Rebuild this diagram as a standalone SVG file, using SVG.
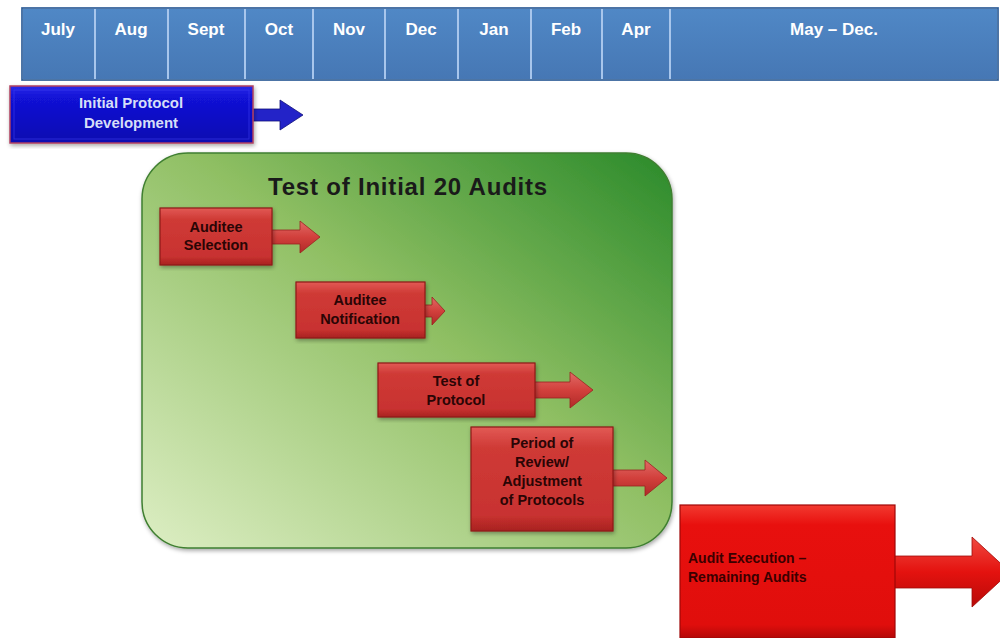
<svg xmlns="http://www.w3.org/2000/svg" width="1000" height="638" viewBox="0 0 1000 638">
<defs>
<linearGradient id="hdr" x1="0" y1="0" x2="0" y2="1">
<stop offset="0" stop-color="#5088c6"/><stop offset="1" stop-color="#4677b4"/>
</linearGradient>
<linearGradient id="grn" x1="1" y1="0" x2="0" y2="1">
<stop offset="0" stop-color="#2a8a2a"/><stop offset="0.45" stop-color="#8fbf63"/><stop offset="1" stop-color="#ddeec4"/>
</linearGradient>
<linearGradient id="red" x1="0" y1="0" x2="0" y2="1">
<stop offset="0" stop-color="#e25a55"/><stop offset="0.2" stop-color="#cf3a36"/><stop offset="0.85" stop-color="#c83230"/><stop offset="1" stop-color="#a82220"/>
</linearGradient>
<linearGradient id="red2" x1="0" y1="0" x2="0" y2="1">
<stop offset="0" stop-color="#f23a30"/><stop offset="0.15" stop-color="#e8100e"/><stop offset="0.9" stop-color="#e00e0c"/><stop offset="1" stop-color="#b40808"/>
</linearGradient>
<linearGradient id="arr" x1="0" y1="0" x2="0" y2="1">
<stop offset="0" stop-color="#e06a66"/><stop offset="0.5" stop-color="#d2403c"/><stop offset="1" stop-color="#b02a28"/>
</linearGradient>
<linearGradient id="arr2" x1="0" y1="0" x2="0" y2="1">
<stop offset="0" stop-color="#f04a40"/><stop offset="0.5" stop-color="#e4120f"/><stop offset="1" stop-color="#b80a08"/>
</linearGradient>
<linearGradient id="blu" x1="0" y1="0" x2="0" y2="1">
<stop offset="0" stop-color="#2a2ae8"/><stop offset="0.2" stop-color="#1212d6"/><stop offset="1" stop-color="#0a0ab0"/>
</linearGradient>
<filter id="sh" x="-10%" y="-10%" width="120%" height="120%">
<feDropShadow dx="1" dy="2" stdDeviation="2" flood-color="#000" flood-opacity="0.35"/>
</filter>
</defs>
<style>
.m{font-family:"Liberation Sans",Arial,sans-serif;font-weight:bold;font-size:17px;fill:#ffffff;text-anchor:middle}
.r{font-family:"Liberation Sans",Arial,sans-serif;font-weight:bold;font-size:14.5px;fill:#2a0505;text-anchor:middle}
.rb{fill:url(#red);stroke:#8e1a18;stroke-width:1.2}
.ar{fill:url(#arr);stroke:#9a2220;stroke-width:0.8}
.cell{fill:url(#hdr);stroke:#a8c6ec;stroke-width:2}
</style>

<g id="timeline">
<rect x="22" y="8" width="976" height="72" fill="#3a6aa5"/>
<rect class="cell" x="22" y="8" width="73" height="72"/>
<rect class="cell" x="95" y="8" width="73" height="72"/>
<rect class="cell" x="168" y="8" width="77" height="72"/>
<rect class="cell" x="245" y="8" width="68" height="72"/>
<rect class="cell" x="313" y="8" width="72" height="72"/>
<rect class="cell" x="385" y="8" width="73" height="72"/>
<rect class="cell" x="458" y="8" width="73" height="72"/>
<rect class="cell" x="531" y="8" width="71" height="72"/>
<rect class="cell" x="602" y="8" width="68" height="72"/>
<rect class="cell" x="670" y="8" width="328" height="72"/>
<rect x="22" y="8" width="976" height="72" fill="none" stroke="#2e5a8e" stroke-width="1.5"/>
<text class="m" x="58" y="35">July</text>
<text class="m" x="131" y="35">Aug</text>
<text class="m" x="206" y="35">Sept</text>
<text class="m" x="279" y="35">Oct</text>
<text class="m" x="349" y="35">Nov</text>
<text class="m" x="421" y="35">Dec</text>
<text class="m" x="494" y="35">Jan</text>
<text class="m" x="566" y="35">Feb</text>
<text class="m" x="636" y="35">Apr</text>
<text class="m" x="834" y="35">May – Dec.</text>
</g>

<g id="test-initial-20-audits">
<rect x="142" y="153" width="530" height="395" rx="46" ry="46" fill="url(#grn)" stroke="#3f7f30" stroke-width="1.5" filter="url(#sh)"/>
<text x="408" y="195" font-family="'Liberation Sans',Arial,sans-serif" font-weight="bold" font-size="24" letter-spacing="0.8" fill="#1a1a1a" text-anchor="middle">Test of Initial 20 Audits</text>
</g>

<g id="connectors">
<path d="M250,109 H280 V100 L303,115 L280,130 V121 H250 Z" fill="#2323c8" stroke="#10107a" stroke-width="0.8"/>
<path class="ar" d="M271,230 H300 V221 L320,237 L300,253 V244 H271 Z"/>
<path class="ar" d="M424,305 H432 V297 L445,311 L432,325 V317 H424 Z"/>
<path class="ar" d="M534,382 H570 V372 L593,390 L570,408 V398 H534 Z"/>
<path class="ar" d="M612,470 H645 V460 L667,478 L645,496 V486 H612 Z"/>
<path d="M894,556 H972 V537 L1010,572 L972,607 V588 H894 Z" fill="url(#arr2)" stroke="#a00a08" stroke-width="0.8"/>
</g>

<g id="initial-protocol-development">
<rect x="10" y="86" width="243" height="57" fill="url(#blu)" stroke="#b04060" stroke-width="1.5" filter="url(#sh)"/>
<rect x="14" y="90" width="235" height="49" fill="none" stroke="#3c3cf0" stroke-width="1" opacity="0.6"/>
<text x="131" y="108" font-family="'Liberation Sans',Arial,sans-serif" font-weight="bold" font-size="15" fill="#d6def8" text-anchor="middle">Initial Protocol</text>
<text x="131" y="128" font-family="'Liberation Sans',Arial,sans-serif" font-weight="bold" font-size="15" fill="#d6def8" text-anchor="middle">Development</text>
</g>

<g id="auditee-selection">
<rect class="rb" x="160" y="208" width="112" height="57" filter="url(#sh)"/>
<text class="r" x="216" y="232">Auditee</text>
<text class="r" x="216" y="250">Selection</text>
</g>

<g id="auditee-notification">
<rect class="rb" x="296" y="282" width="129" height="56" filter="url(#sh)"/>
<text class="r" x="360" y="305">Auditee</text>
<text class="r" x="360" y="324">Notification</text>
</g>

<g id="test-of-protocol">
<rect class="rb" x="378" y="363" width="157" height="54" filter="url(#sh)"/>
<text class="r" x="456" y="386">Test of</text>
<text class="r" x="456" y="405">Protocol</text>
</g>

<g id="period-of-review">
<rect class="rb" x="471" y="427" width="142" height="104" filter="url(#sh)"/>
<text class="r" x="542" y="448">Period of</text>
<text class="r" x="542" y="467">Review/</text>
<text class="r" x="542" y="486">Adjustment</text>
<text class="r" x="542" y="505">of Protocols</text>
</g>

<g id="audit-execution">
<rect x="680" y="505" width="215" height="133" fill="url(#red2)" stroke="#a00808" stroke-width="1.2"/>
<text x="688" y="563" font-family="'Liberation Sans',Arial,sans-serif" font-weight="bold" font-size="14" fill="#3a0000">Audit Execution –</text>
<text x="688" y="582" font-family="'Liberation Sans',Arial,sans-serif" font-weight="bold" font-size="14" fill="#3a0000">Remaining Audits</text>
</g>
</svg>
